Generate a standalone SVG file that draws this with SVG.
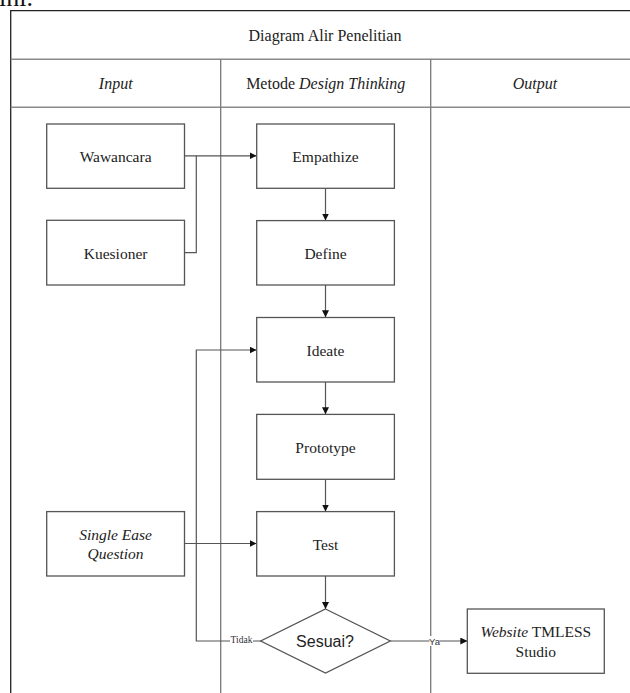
<svg xmlns="http://www.w3.org/2000/svg" width="630" height="693" viewBox="0 0 630 693">
  <style>
    .frame { fill: none; stroke: #222; stroke-width: 1.3; }
    .rule { fill: none; stroke: #8a8a8a; stroke-width: 1.5; }
    .lane { fill: none; stroke: #7a7a7a; stroke-width: 1.3; }
    .box { fill: #fff; stroke: #555; stroke-width: 1.3; }
    .lbl { font-family: "Liberation Serif", "Times New Roman", serif; font-size: 15.5px; fill: #222; text-anchor: middle; }
    .hdr { font-family: "Liberation Serif", "Times New Roman", serif; font-size: 16px; fill: #222; text-anchor: middle; }
    .sans { font-family: "Liberation Sans", Arial, sans-serif; font-size: 16px; fill: #222; text-anchor: middle; }
    .edge { fill: none; stroke: #555; stroke-width: 1.2; }
    .tag { font-size: 9.5px; fill: #333; text-anchor: middle; }
    .tagbg { fill: #fff; stroke: none; }
  </style>
  <defs>
    <marker id="arrow" viewBox="0 0 10 10" refX="10" refY="5" markerWidth="7" markerHeight="7" markerUnits="userSpaceOnUse" orient="auto">
      <path d="M0,0 L10,5 L0,10 z" fill="#111"/>
    </marker>
  </defs>

  <rect width="630" height="693" fill="#fff"/>

  <!-- running text above the table -->
  <text x="-1" y="6" font-family="'Liberation Serif', 'Times New Roman', serif" font-size="26px" fill="#111">ini.</text>

  <!-- swimlane table -->
  <g id="table">
    <path class="frame" d="M10.7,693 V10.7 H640"/>
    <path class="rule" d="M10.7,59.3 H640 M10.7,107.3 H640"/>
    <path class="lane" d="M220.7,59.3 V693 M430.7,59.3 V693"/>
    <text class="hdr" x="325" y="40.5">Diagram Alir Penelitian</text>
    <text class="hdr" x="115.7" y="89" font-style="italic">Input</text>
    <text class="hdr" x="325.7" y="89">Metode <tspan font-style="italic">Design Thinking</tspan></text>
    <text class="hdr" x="535" y="89" font-style="italic">Output</text>
  </g>

  <!-- connectors -->
  <g id="connectors">
    <path class="edge" d="M184.5,155.8 H256.5" marker-end="url(#arrow)"/>
    <path class="edge" d="M184.5,252.7 H196.3 V155.8"/>
    <path class="edge" d="M325.5,188.3 V220.5" marker-end="url(#arrow)"/>
    <path class="edge" d="M325.5,285 V317.3" marker-end="url(#arrow)"/>
    <path class="edge" d="M325.5,382 V414.3" marker-end="url(#arrow)"/>
    <path class="edge" d="M325.5,479.3 V511.5" marker-end="url(#arrow)"/>
    <path class="edge" d="M184.5,543.5 H256.5" marker-end="url(#arrow)"/>
    <path class="edge" d="M325.5,576 V609" marker-end="url(#arrow)"/>
    <path class="edge" d="M260.7,641 H196.3 V350 H256.5" marker-end="url(#arrow)"/>
    <path class="edge" d="M390.3,641 H467.3" marker-end="url(#arrow)"/>
    <rect class="tagbg" x="230" y="634" width="23" height="10"/>
    <text class="tag" x="241.5" y="643" font-family="'Liberation Serif', 'Times New Roman', serif">Tidak</text>
    <rect class="tagbg" x="429.5" y="636" width="10" height="10"/>
    <text class="tag" x="434.5" y="644.5" font-family="'Liberation Sans', Arial, sans-serif" font-size="9px">Ya</text>
  </g>

  <!-- input lane -->
  <g id="wawancara">
    <rect class="box" x="46.7" y="124" width="137.8" height="64.3"/>
    <text class="lbl" x="115.6" y="161.8">Wawancara</text>
  </g>
  <g id="kuesioner">
    <rect class="box" x="46.7" y="220.3" width="137.8" height="64.7"/>
    <text class="lbl" x="115.6" y="258.6">Kuesioner</text>
  </g>
  <g id="single-ease-question">
    <rect class="box" x="46.7" y="511.6" width="137.8" height="64.4"/>
    <text class="lbl" x="115.6" y="540" font-style="italic">Single Ease</text>
    <text class="lbl" x="115.6" y="559.2" font-style="italic">Question</text>
  </g>

  <!-- design thinking lane -->
  <g id="empathize">
    <rect class="box" x="256.7" y="124" width="137.7" height="64.3"/>
    <text class="lbl" x="325.5" y="161.8">Empathize</text>
  </g>
  <g id="define">
    <rect class="box" x="256.7" y="220.6" width="137.7" height="64.4"/>
    <text class="lbl" x="325.5" y="258.6">Define</text>
  </g>
  <g id="ideate">
    <rect class="box" x="256.7" y="317.5" width="137.7" height="64.5"/>
    <text class="lbl" x="325.5" y="355.5">Ideate</text>
  </g>
  <g id="prototype">
    <rect class="box" x="256.7" y="414.4" width="137.7" height="64.9"/>
    <text class="lbl" x="325.5" y="452.6">Prototype</text>
  </g>
  <g id="test">
    <rect class="box" x="256.7" y="511.6" width="137.7" height="64.4"/>
    <text class="lbl" x="325.5" y="549.5">Test</text>
  </g>
  <g id="sesuai">
    <polygon class="box" points="325.5,609 390.3,641 325.5,673 260.7,641"/>
    <text class="sans" x="325" y="647">Sesuai?</text>
  </g>

  <!-- output lane -->
  <g id="website">
    <rect class="box" x="467.3" y="609" width="137" height="64.3"/>
    <text class="lbl" x="535.8" y="637.2"><tspan font-style="italic">Website</tspan> TMLESS</text>
    <text class="lbl" x="535.8" y="656.7">Studio</text>
  </g>
</svg>
